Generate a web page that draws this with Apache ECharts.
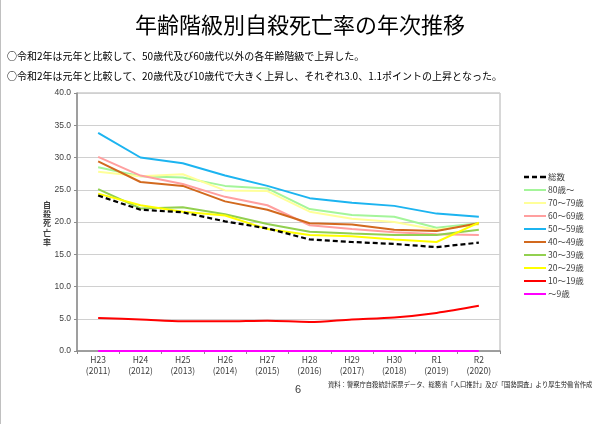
<!DOCTYPE html>
<html>
<head>
<meta charset="utf-8">
<script src="https://cdn.jsdelivr.net/npm/echarts@6/dist/echarts.min.js"></script>
<style>
	html,body{margin:0;padding:0;background:#fff;}
	#chart{width:600px;height:424px;}
</style>
</head>
<body>
<div id="chart"></div>
<script>
	var years = ['H23\n(2011)','H24\n(2012)','H25\n(2013)','H26\n(2014)','H27\n(2015)','H28\n(2016)','H29\n(2017)','H30\n(2018)','R1\n(2019)','R2\n(2020)'];
	var yTicks = [0, 5, 10, 15, 20, 25, 30, 35, 40];

	// 自殺死亡率（人口10万人当たり）
	var total = [24.1, 21.9, 21.5, 20.1, 19.0, 17.3, 16.9, 16.6, 16.1, 16.8];
	var age80 = [28.5, 27.1, 26.9, 25.6, 25.2, 22.0, 21.1, 20.8, 19.1, 19.8];
	var age70 = [27.8, 27.1, 27.4, 24.9, 24.8, 21.6, 20.5, 20.0, 18.8, 19.6];
	var age60 = [30.1, 27.2, 25.9, 23.9, 22.6, 19.5, 18.9, 18.4, 18.1, 18.0];
	var age50 = [33.8, 30.0, 29.1, 27.2, 25.6, 23.7, 23.0, 22.5, 21.3, 20.8];
	var age40 = [29.4, 26.2, 25.6, 23.2, 21.9, 19.8, 19.6, 18.8, 18.6, 19.8];
	var age30 = [25.1, 22.1, 22.3, 21.2, 19.7, 18.5, 18.2, 18.0, 18.0, 18.8];
	var age20 = [24.4, 22.6, 21.6, 21.0, 18.9, 18.0, 17.8, 17.3, 16.9, 19.9];
	var age10 = [5.1, 4.9, 4.6, 4.6, 4.7, 4.5, 4.9, 5.2, 5.9, 7.0];
	var age0 = [0, 0, 0, 0, 0, 0, 0, 0, 0, 0];

	var names = ['総数','80歳～','70～79歳','60～69歳','50～59歳','40～49歳','30～39歳','20～29歳','10～19歳','～9歳'];
	var colors = ['#000000','#a4f59a','#ffff99','#ff9f9f','#1cb4f0','#d2691e','#92d050','#ffff00','#ff0000','#ff00ff'];
	var values = [total, age80, age70, age60, age50, age40, age30, age20, age10, age0];

	var jp = '"Noto Sans CJK JP", sans-serif';

	// 凡例のアイコン（線だけ、総数は破線）
	var solidIcon = 'path://M0,0M22,10M0,4h22v2h-22z';
	var dashIcon = 'path://M0,0M22,10M0,3.8h5v2.4h-5zM8,3.8h5v2.4h-5zM16,3.8h6v2.4h-6z';

	var myChart = echarts.init(document.getElementById('chart'));

	var series = [];
	var legendData = [];
	for (var i = 0; i < names.length; i++) {
		series.push({
			name: names[i],
			type: 'line',
			data: values[i],
			symbol: 'none',
			smooth: i == 8 ? 0.3 : false,
			z: i == 0 ? 5 : 3,
			lineStyle: {
				color: colors[i],
				width: i == 0 ? 2.2 : 2,
				type: i == 0 ? [5, 3] : 'solid'
			},
			itemStyle: { color: colors[i] }
		});
		legendData.push({ name: names[i], icon: i == 0 ? dashIcon : solidIcon });
	}

	var option = {
		animation: false,
		title: [{
			text: '年齢階級別自殺死亡率の年次推移',
			left: 'center',
			top: 9,
			textStyle: { fontFamily: jp, fontSize: 22, fontWeight: 'normal', color: '#000' }
		}, {
			text: '○令和2年は元年と比較して、50歳代及び60歳代以外の各年齢階級で上昇した。',
			left: 2,
			top: 46,
			textStyle: { fontFamily: jp, fontSize: 10, fontWeight: 'normal', color: '#000' }
		}, {
			text: '○令和2年は元年と比較して、20歳代及び10歳代で大きく上昇し、それぞれ3.0、1.1ポイントの上昇となった。',
			left: 2,
			top: 66,
			textStyle: { fontFamily: jp, fontSize: 10, fontWeight: 'normal', color: '#000' }
		}],
		legend: {
			orient: 'vertical',
			left: 519,
			top: 167,
			itemWidth: 22,
			itemHeight: 10,
			itemGap: 3,
			data: legendData,
			textStyle: { fontFamily: jp, fontSize: 8.5, color: '#404040', padding: [0, 0, 0, -3] }
		},
		grid: {
			left: 77,
			right: 100,
			top: 93,
			bottom: 73,
			show: true,
			borderColor: '#b0b0b0',
			borderWidth: 1
		},
		xAxis: {
			type: 'category',
			data: years,
			boundaryGap: true,
			axisLine: { lineStyle: { color: '#8c8c8c', width: 1.5 } },
			axisTick: { show: true, length: 3, lineStyle: { color: '#8c8c8c' } },
			axisLabel: { fontFamily: jp, fontSize: 8.5, color: '#404040', lineHeight: 10.5, margin: 4 }
		},
		yAxis: {
			type: 'value',
			min: yTicks[0],
			max: yTicks[yTicks.length - 1],
			interval: 5,
			axisLine: { show: true, lineStyle: { color: '#8c8c8c', width: 1.5 } },
			axisTick: { show: true, length: 3, lineStyle: { color: '#8c8c8c' } },
			axisLabel: {
				fontFamily: 'Liberation Sans, Arial, sans-serif',
				fontSize: 8.5,
				color: '#404040',
				margin: 6,
				formatter: function (v) { return v.toFixed(1); }
			},
			splitLine: { lineStyle: { color: '#d0d0d0', width: 1 } }
		},
		graphic: [{
			type: 'text',
			left: 43,
			top: 200,
			style: {
				text: '自\n殺\n死\n亡\n率',
				fontFamily: 'Noto Sans CJK JP',
				fontSize: 8,
				fontWeight: 'bold',
				lineHeight: 9.3,
				fill: '#404040'
			}
		}, {
			type: 'text',
			left: 295,
			top: 384,
			style: { text: '6', fontFamily: 'Liberation Sans', fontSize: 11, fill: '#404040' }
		}, {
			type: 'text',
			left: 328,
			top: 381,
			style: {
				text: '資料：警察庁自殺統計原票データ、総務省「人口推計」及び「国勢調査」より厚生労働省作成',
				fontFamily: 'Noto Sans CJK JP',
				fontSize: 6.3,
				fill: '#202020'
			}
		}, {
			type: 'line',
			shape: { x1: 0.5, y1: 0, x2: 0.5, y2: 424 },
			style: { stroke: '#c0c0c0', lineWidth: 1 }
		}],
		series: series
	};

	myChart.setOption(option);
</script>
</body>
</html>
